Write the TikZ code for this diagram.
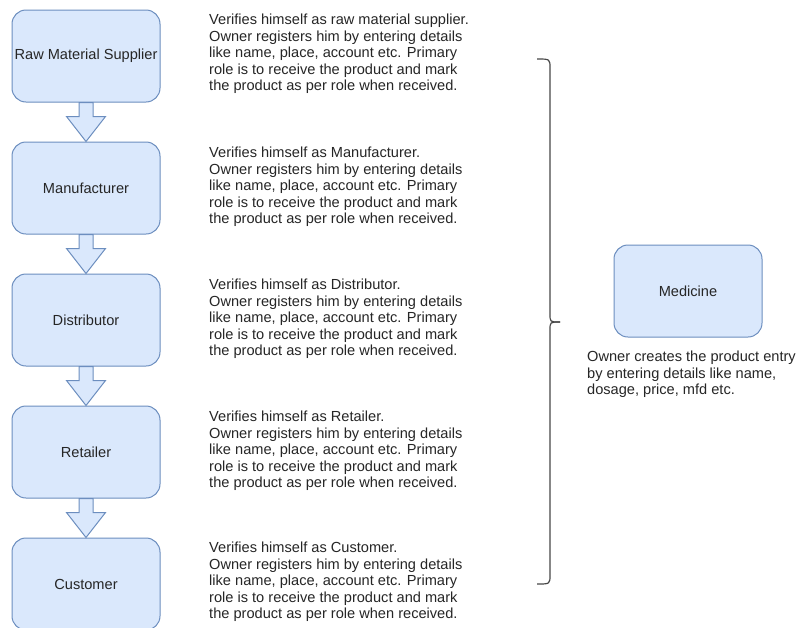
\documentclass[tikz,border=0pt]{standalone}
\usepackage{fontspec}
\setmainfont{Liberation Sans}
\usetikzlibrary{calc}
\definecolor{boxfill}{HTML}{DAE8FC}
\definecolor{boxline}{HTML}{6C8EBF}
\definecolor{txt}{HTML}{262626}
\tikzset{
  stagebox/.style={rectangle, rounded corners=14pt, minimum width=148pt, minimum height=92pt,
    fill=boxfill, draw=boxline, line width=1pt, text=txt, inner sep=0pt,
    font=\fontsize{14.6}{16.6}\selectfont},
  desc/.style={anchor=west, align=left, inner sep=0pt, text=txt,
    font=\fontsize{14.6}{16.6}\selectfont},
  flexarrow/.style={fill=boxfill, draw=boxline, line width=1pt, line join=miter},
  bracestyle/.style={draw=txt!85, line width=1.2pt}
}
\newcommand\flexarr[2]{%
  \draw[flexarrow] ($(#1.south)+(-7,0)$) -- ($(#1.south)+(7,0)$) -- ($(#2.north)+(7,-25)$)
    -- ($(#2.north)+(19.5,-25)$) -- (#2.north) -- ($(#2.north)+(-19.5,-25)$)
    -- ($(#2.north)+(-7,-25)$) -- cycle;}
\begin{document}
\begin{tikzpicture}[x=1pt, y=-1pt]
\useasboundingbox[fill=white] (0,0) rectangle (797,627);

\node[stagebox] (raw)  at (86,56)  {Raw Material Supplier};
\node[stagebox] (man)  at (86,188) {Manufacturer};
\node[stagebox] (dist) at (86,320) {Distributor};
\node[stagebox] (ret)  at (86,452) {Retailer};
\node[stagebox] (cust) at (86,584) {Customer};
\node[stagebox] (med)  at (688,291) {Medicine};

\flexarr{raw}{man}
\flexarr{man}{dist}
\flexarr{dist}{ret}
\flexarr{ret}{cust}

\node[desc] (trw) at (209,54) {Verifies himself as raw material supplier.\\Owner registers him by entering details\\like name, place, account etc. Primary\\role is to receive the product and mark\\the product as per role when received.};
\node[desc] (tmn) at (209,187) {Verifies himself as Manufacturer.\\Owner registers him by entering details\\like name, place, account etc. Primary\\role is to receive the product and mark\\the product as per role when received.};
\node[desc] (tds) at (209,319) {Verifies himself as Distributor.\\Owner registers him by entering details\\like name, place, account etc. Primary\\role is to receive the product and mark\\the product as per role when received.};
\node[desc] (trt) at (209,451) {Verifies himself as Retailer.\\Owner registers him by entering details\\like name, place, account etc. Primary\\role is to receive the product and mark\\the product as per role when received.};
\node[desc] (tcs) at (209,582) {Verifies himself as Customer.\\Owner registers him by entering details\\like name, place, account etc. Primary\\role is to receive the product and mark\\the product as per role when received.};
\node[desc, anchor=north west] (tmd) at (587,351) {Owner creates the product entry\\by entering details like name,\\dosage, price, mfd etc.};

\draw[bracestyle] (537,59) .. controls (550,59) .. (550,68) -- (550,314) .. controls (550,322) .. (560,322);
\draw[bracestyle] (560,322) .. controls (550,322) .. (550,330) -- (550,575) .. controls (550,584) .. (537,584);
\end{tikzpicture}
\end{document}
